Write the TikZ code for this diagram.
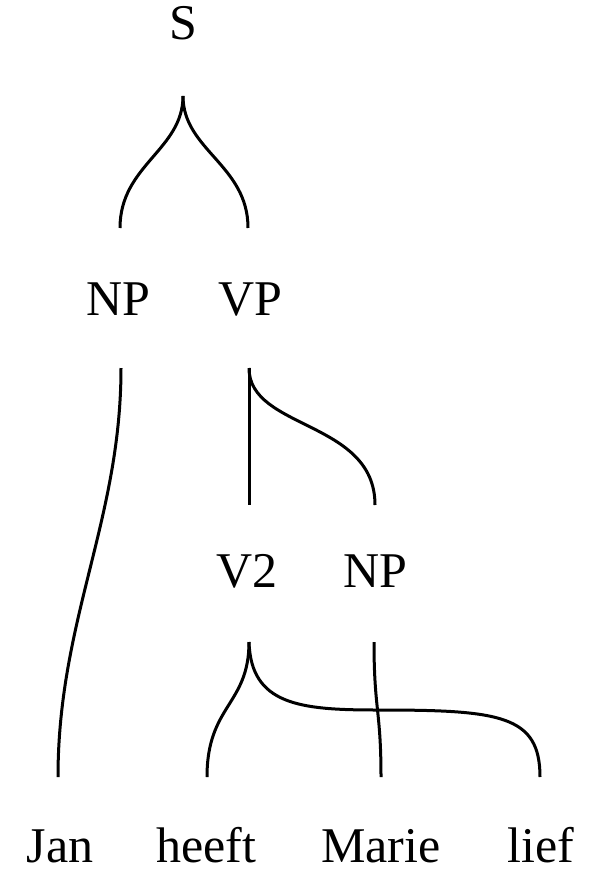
\documentclass[tikz,border=0pt]{standalone}
\usepackage{fontspec}
\setmainfont{Liberation Serif}
\begin{document}
\begin{tikzpicture}[x=1pt,y=-1pt,
  lab/.style={inner sep=0pt,anchor=base,font=\fontsize{50}{58}\selectfont},
  edge/.style={line width=3pt,line cap=butt}]
\useasboundingbox (0,0) rectangle (603,872);
% labels
\node[lab] (S) at (183,40) {S};
\node[lab] (NP1) at (118,315) {NP};
\node[lab] (VP) at (250,315) {VP};
\node[lab] (V2) at (247,587) {V2};
\node[lab] (NP2) at (375,587) {NP};
\node[lab] (Jan) at (60,862) {Jan};
\node[lab] (heeft) at (206,862) {heeft};
\node[lab] (Marie) at (381,862) {Marie};
\node[lab] (lief) at (541,862) {lief};
% edge end points
\coordinate (sS) at (183,96);
\coordinate (eNP1) at (120,228);
\coordinate (eVP) at (248,228);
\coordinate (sNP1) at (121,368);
\coordinate (sVP) at (249,368);
\coordinate (eV2) at (249,505);
\coordinate (eNP2) at (375,505);
\coordinate (sV2) at (249,642);
\coordinate (sNP2) at (374,642);
\coordinate (eJan) at (58,777);
\coordinate (eheeft) at (207,777);
\coordinate (eMarie) at (381,777);
\coordinate (elief) at (540,777);
\coordinate (mid) at (378,710);
% edges
\draw[edge] (sS) .. controls (183,150) and (120,165) .. (eNP1);
\draw[edge] (sS) .. controls (183,150) and (248,165) .. (eVP);
\draw[edge] (sNP1) .. controls (121,520) and (58,620) .. (eJan);
\draw[edge] (sVP) -- (eV2);
\draw[edge] (sVP) .. controls (249,430) and (375,420) .. (eNP2);
\draw[edge] (sV2) .. controls (249,705) and (207,705) .. (eheeft);
\draw[edge] (sV2) .. controls (251,705) and (300,710) .. (mid) .. controls (500,710) and (540,715) .. (elief);
\draw[edge] (sNP2) .. controls (374,710) and (381,710) .. (eMarie);
\end{tikzpicture}
\end{document}
